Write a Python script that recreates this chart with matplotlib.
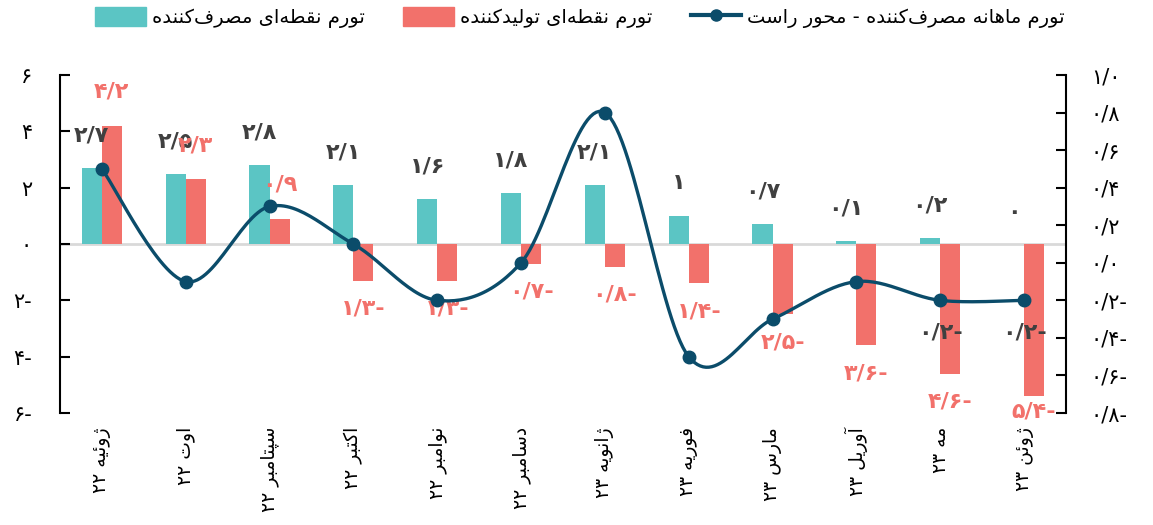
import numpy as np
import matplotlib
matplotlib.use('Agg')
import matplotlib.pyplot as plt
from matplotlib.patches import Patch
from matplotlib.lines import Line2D

months = ['ژوئیه ۲۲', 'اوت ۲۲', 'سپتامبر ۲۲', 'اکتبر ۲۲', 'نوامبر ۲۲', 'دسامبر ۲۲',
          'ژانویه ۲۳', 'فوریه ۲۳', 'مارس ۲۳', 'آوریل ۲۳', 'مه ۲۳', 'ژوئن ۲۳']
cpi_point = [2.7, 2.5, 2.8, 2.1, 1.6, 1.8, 2.1, 1.0, 0.7, 0.1, 0.2, 0.0]
ppi_point = [4.2, 2.3, 0.9, -1.3, -1.3, -0.7, -0.8, -1.4, -2.5, -3.6, -4.6, -5.4]
cpi_monthly = [0.5, -0.1, 0.3, 0.1, -0.2, 0.0, 0.8, -0.5, -0.3, -0.1, -0.2, -0.2]
left_ticks = [-6, -4, -2, 0, 2, 4, 6]
right_ticks = [-0.8, -0.6, -0.4, -0.2, 0.0, 0.2, 0.4, 0.6, 0.8, 1.0]
legend_labels = ['تورم نقطه‌ای مصرف‌کننده', 'تورم نقطه‌ای تولیدکننده',
                 'تورم ماهانه مصرف‌کننده - محور راست']

TEAL = '#5BC5C4'
SALMON = '#F2716B'
NAVY = '#0B4C6A'
DARK = '#404040'

# --- minimal arabic/persian shaping (no arabic_reshaper available) ---
FORMS = {
    'ا': ('\uFE8D', '\uFE8E', None, None), 'آ': ('\uFE81', '\uFE82', None, None),
    'ب': ('\uFE8F', '\uFE90', '\uFE91', '\uFE92'), 'ت': ('\uFE95', '\uFE96', '\uFE97', '\uFE98'),
    'ث': ('\uFE99', '\uFE9A', '\uFE9B', '\uFE9C'), 'ج': ('\uFE9D', '\uFE9E', '\uFE9F', '\uFEA0'),
    'ح': ('\uFEA1', '\uFEA2', '\uFEA3', '\uFEA4'), 'خ': ('\uFEA5', '\uFEA6', '\uFEA7', '\uFEA8'),
    'د': ('\uFEA9', '\uFEAA', None, None), 'ذ': ('\uFEAB', '\uFEAC', None, None),
    'ر': ('\uFEAD', '\uFEAE', None, None), 'ز': ('\uFEAF', '\uFEB0', None, None),
    'ژ': ('\uFB8A', '\uFB8B', None, None), 'و': ('\uFEED', '\uFEEE', None, None),
    'س': ('\uFEB1', '\uFEB2', '\uFEB3', '\uFEB4'), 'ش': ('\uFEB5', '\uFEB6', '\uFEB7', '\uFEB8'),
    'ص': ('\uFEB9', '\uFEBA', '\uFEBB', '\uFEBC'), 'ض': ('\uFEBD', '\uFEBE', '\uFEBF', '\uFEC0'),
    'ط': ('\uFEC1', '\uFEC2', '\uFEC3', '\uFEC4'), 'ظ': ('\uFEC5', '\uFEC6', '\uFEC7', '\uFEC8'),
    'ع': ('\uFEC9', '\uFECA', '\uFECB', '\uFECC'), 'غ': ('\uFECD', '\uFECE', '\uFECF', '\uFED0'),
    'ف': ('\uFED1', '\uFED2', '\uFED3', '\uFED4'), 'ق': ('\uFED5', '\uFED6', '\uFED7', '\uFED8'),
    'ل': ('\uFEDD', '\uFEDE', '\uFEDF', '\uFEE0'), 'م': ('\uFEE1', '\uFEE2', '\uFEE3', '\uFEE4'),
    'ن': ('\uFEE5', '\uFEE6', '\uFEE7', '\uFEE8'), 'ه': ('\uFEE9', '\uFEEA', '\uFEEB', '\uFEEC'),
    'ئ': ('\uFE89', '\uFE8A', '\uFE8B', '\uFE8C'), 'ی': ('\uFBFC', '\uFBFD', '\uFBFE', '\uFBFF'),
    'ک': ('\uFB8E', '\uFB8F', '\uFB90', '\uFB91'), 'گ': ('\uFB92', '\uFB93', '\uFB94', '\uFB95'),
    'پ': ('\uFB56', '\uFB57', '\uFB58', '\uFB59'), 'چ': ('\uFB7A', '\uFB7B', '\uFB7C', '\uFB7D'),
}
DIGITS = set('۰۱۲۳۴۵۶۷۸۹0123456789/')


def shape(text):
    out = []
    for i, ch in enumerate(text):
        if ch not in FORMS:
            if ch != '\u200c':
                out.append(ch)
            continue
        prev = text[i - 1] if i > 0 else ''
        nxt = text[i + 1] if i + 1 < len(text) else ''
        join_prev = prev in FORMS and FORMS[prev][2] is not None
        join_next = FORMS[ch][2] is not None and nxt in FORMS
        iso, fin, ini, med = FORMS[ch]
        if join_prev and join_next:
            out.append(med)
        elif join_prev:
            out.append(fin)
        elif join_next:
            out.append(ini)
        else:
            out.append(iso)
    # visual order: reverse, but keep digit runs left-to-right
    rev = ''.join(out)[::-1]
    res, run = [], ''
    for ch in rev:
        if ch in DIGITS:
            run += ch
        else:
            res.append(run[::-1])
            run = ''
            res.append(ch)
    res.append(run[::-1])
    return ''.join(res)


def fa(v, dec=None):
    s = ('%.' + str(dec) + 'f') % abs(v) if dec is not None else ('%g' % abs(round(v, 1)))
    s = s.translate(str.maketrans('0123456789.', '۰۱۲۳۴۵۶۷۸۹/'))
    return s + '-' if round(v, 3) < 0 else s


plt.rcParams['font.family'] = ['DejaVu Sans']

fig = plt.figure(figsize=(11.53, 5.25), dpi=100)
ax = fig.add_axes([0.052, 0.2133, 0.8725, 0.6438])
ax2 = ax.twinx()

x = np.arange(len(months))
w = 0.24
ax.bar(x - w / 2, cpi_point, w, color=TEAL, zorder=2)
ax.bar(x + w / 2, ppi_point, w, color=SALMON, zorder=2)
ax.axhline(0, color='#D9D9D9', lw=2, zorder=1)

for xi, v in zip(x, cpi_point):
    ax.text(xi - w / 2, v + 1.15, fa(v), ha='center', va='center', fontsize=16,
            fontweight='bold', color=DARK, zorder=3)
for xi, v in zip(x, ppi_point):
    yl = v + 1.2 if v >= 0 else max(v - 1.0, -5.95)
    ax.text(xi + w / 2, yl, fa(v), ha='center', va='center', fontsize=16,
            fontweight='bold', color=SALMON, zorder=3, clip_on=False)

ax.set_xlim(-0.5, len(months) - 0.5)
ax.set_ylim(-6, 6)
ax.set_yticks(left_ticks)
ax.set_yticklabels([fa(t) for t in left_ticks])
ax.set_xticks(x)
ax.set_xticklabels([shape(m) for m in months], rotation=90, va='top', ha='center',
                   fontsize=13.5)
ax.tick_params(axis='x', length=0, pad=10)
ax.tick_params(axis='y', direction='in', length=7, width=1.5, labelsize=15, pad=20)
for s in ['top', 'bottom', 'right']:
    ax.spines[s].set_visible(False)
ax.spines['left'].set_linewidth(1.5)

# smoothed line (catmull-rom through the points, like excel's smoothing)
ym = np.array(cpi_monthly)
pts_x = np.concatenate([[x[0]], x, [x[-1]]]).astype(float)
pts_y = np.concatenate([[ym[0]], ym, [ym[-1]]])
sx, sy = [], []
t = np.linspace(0, 1, 30)
for i in range(1, len(pts_x) - 2):
    p0, p1, p2, p3 = [np.array([pts_x[j], pts_y[j]]) for j in (i - 1, i, i + 1, i + 2)]
    c1 = p1 + (p2 - p0) / 6
    c2 = p2 - (p3 - p1) / 6
    b = ((1 - t) ** 3)[:, None] * p1 + (3 * (1 - t) ** 2 * t)[:, None] * c1 \
        + (3 * (1 - t) * t ** 2)[:, None] * c2 + (t ** 3)[:, None] * p2
    sx.extend(b[:, 0])
    sy.extend(b[:, 1])
ax2.plot(sx, sy, color=NAVY, lw=2.4, zorder=4)
ax2.plot(x, ym, 'o', color=NAVY, ms=9, zorder=5)
for xi, v in list(zip(x, ym))[-2:]:
    ax2.text(xi, v - 0.17, fa(v, 1), ha='center', va='center', fontsize=16,
             fontweight='bold', color=DARK, zorder=6)

ax2.set_ylim(-0.8, 1.0)
ax2.set_yticks(right_ticks)
ax2.set_yticklabels([fa(t, 1) for t in right_ticks], ha='left')
ax2.tick_params(axis='y', direction='in', length=7, width=1.5, labelsize=15, pad=18)
for s in ['top', 'bottom', 'left']:
    ax2.spines[s].set_visible(False)
ax2.spines['right'].set_linewidth(1.5)

handles = [Patch(color=TEAL), Patch(color=SALMON),
           Line2D([0], [0], color=NAVY, lw=3, marker='o', ms=8)]
fig.legend(handles, [shape(l) for l in legend_labels], loc='center', ncol=3,
           bbox_to_anchor=(0.503, 0.967), frameon=False, fontsize=14,
           handlelength=2.6, handleheight=1.1, handletextpad=0.3, columnspacing=2.0)

fig.savefig('out.png', dpi=100)
